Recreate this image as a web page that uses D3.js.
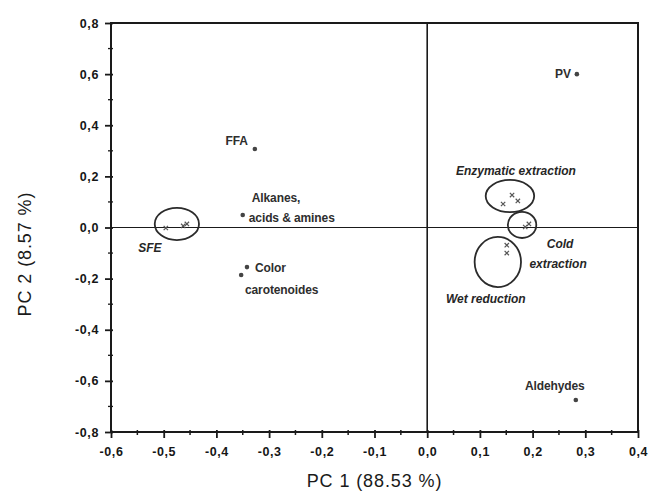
<!DOCTYPE html>
<html>
<head>
<meta charset="utf-8">
<style>
	body { margin: 0; background: #fff; }
	svg { display: block; }
	.tick-label { font-family: "Liberation Sans", Arial, sans-serif; font-weight: bold; font-size: 12.5px; fill: #161616; letter-spacing: 0.6px; }
	.axis-title { font-family: "Liberation Sans", Arial, sans-serif; font-size: 18px; fill: #1a1a1a; letter-spacing: 0.9px; }
	.pt-label { font-family: "Liberation Sans", Arial, sans-serif; font-weight: bold; font-size: 12px; fill: #2e2e2e; letter-spacing: -0.1px; }
	.grp-label { font-family: "Liberation Sans", Arial, sans-serif; font-weight: bold; font-style: italic; font-size: 12px; fill: #262626; letter-spacing: 0px; }
</style>
<script src="https://cdn.jsdelivr.net/npm/d3@7"></script>
</head>
<body>
<div id="chart"></div>
<script>
// loadings (variables)
var varNames = ["PV", "FFA", "Alkanes", "Color", "Color2", "Aldehydes"];
var varPC1 = [0.284, -0.327, -0.350, -0.342, -0.353, 0.282];
var varPC2 = [0.600, 0.307, 0.049, -0.155, -0.186, -0.675];

// scores (samples) per extraction method
var sampleGroup = ["SFE", "SFE", "SFE", "Enzymatic", "Enzymatic", "Enzymatic", "Cold", "Cold", "Wet", "Wet"];
var samplePC1 = [-0.496, -0.463, -0.456, 0.161, 0.172, 0.144, 0.193, 0.186, 0.151, 0.151];
var samplePC2 = [-0.002, 0.006, 0.014, 0.127, 0.104, 0.092, 0.014, 0.002, -0.069, -0.100];

// group ellipses (centre and half axes in PC units)
var groupNames = ["SFE", "Enzymatic", "Cold", "Wet"];
var groupCx = [-0.475, 0.157, 0.180, 0.134];
var groupCy = [0.014, 0.123, 0.010, -0.135];
var groupRx = [0.042, 0.046, 0.027, 0.044];
var groupRy = [0.063, 0.063, 0.051, 0.098];

var xTicks = [-0.6, -0.5, -0.4, -0.3, -0.2, -0.1, 0.0, 0.1, 0.2, 0.3, 0.4];
var yTicks = [-0.8, -0.6, -0.4, -0.2, 0.0, 0.2, 0.4, 0.6, 0.8];

// label placement, pixels from the mark (layout only)
var varLabelLayout = {
	"PV": [{t: "PV", dx: -6, dy: 4, a: "end"}],
	"FFA": [{t: "FFA", dx: -7, dy: -4, a: "end"}],
	"Alkanes": [{t: "Alkanes,", dx: 9, dy: -13, a: "start"}, {t: "acids & amines", dx: 6, dy: 7, a: "start"}],
	"Color": [{t: "Color", dx: 8, dy: 5, a: "start"}, {t: "carotenoides", dx: -2, dy: 27, a: "start"}],
	"Color2": [],
	"Aldehydes": [{t: "Aldehydes", dx: -21, dy: -10, a: "middle"}]
};
var groupLabelLayout = {
	"SFE": [{t: "SFE", dx: -27, dy: 28, a: "middle"}],
	"Enzymatic": [{t: "Enzymatic extraction", dx: 6, dy: -21, a: "middle"}],
	"Cold": [{t: "Cold", dx: 38, dy: 23, a: "middle"}, {t: "extraction", dx: 36, dy: 43, a: "middle"}],
	"Wet": [{t: "Wet reduction", dx: -12, dy: 41, a: "middle"}]
};

var width = 651, height = 495;
var plotL = 111, plotR = 638, plotT = 23, plotB = 432;

var svg = d3.select("#chart").append("svg")
	.attr("width", width)
	.attr("height", height);

var x = d3.scaleLinear().domain([-0.6, 0.4]).range([plotL, plotR]);
var y = d3.scaleLinear().domain([-0.8, 0.8]).range([plotB, plotT]);

var fmt = function(d) { return d3.format(".1f")(d).replace(".", ",").replace("−", "-"); };

// zero lines
svg.append("line")
	.attr("x1", x(0)).attr("x2", x(0)).attr("y1", plotT).attr("y2", plotB)
	.attr("stroke", "#1a1a1a").attr("stroke-width", 1.6);
svg.append("line")
	.attr("x1", plotL).attr("x2", plotR).attr("y1", y(0)).attr("y2", y(0))
	.attr("stroke", "#1a1a1a").attr("stroke-width", 1.2);

// frame
svg.append("rect")
	.attr("x", plotL).attr("y", plotT)
	.attr("width", plotR - plotL).attr("height", plotB - plotT)
	.attr("fill", "none").attr("stroke", "#1a1a1a").attr("stroke-width", 2);

// bottom axis
var xAxis = d3.axisBottom(x).tickValues(xTicks).tickSize(6).tickPadding(7).tickFormat(fmt);
var gx = svg.append("g").attr("transform", "translate(0," + plotB + ")").call(xAxis);
gx.select(".domain").remove();
gx.selectAll(".tick line").attr("stroke", "#1a1a1a").attr("stroke-width", 1.8).attr("y1", -2);
gx.selectAll(".tick text").attr("class", "tick-label").attr("dy", "0.85em");
var xMinor = d3.range(-0.55, 0.4, 0.1);
svg.append("g").selectAll("line").data(xMinor).join("line")
	.attr("x1", d => x(d)).attr("x2", d => x(d))
	.attr("y1", plotB - 2).attr("y2", plotB + 3)
	.attr("stroke", "#1a1a1a").attr("stroke-width", 1.5);

// left axis
var yAxis = d3.axisLeft(y).tickValues(yTicks).tickSize(6).tickPadding(6).tickFormat(fmt);
var gy = svg.append("g").attr("transform", "translate(" + plotL + ",0)").call(yAxis);
gy.select(".domain").remove();
gy.selectAll(".tick line").attr("stroke", "#1a1a1a").attr("stroke-width", 1.8).attr("x1", 2);
gy.selectAll(".tick text").attr("class", "tick-label").attr("text-anchor", "end");
var yMinor = d3.range(-0.7, 0.8, 0.2);
svg.append("g").selectAll("line").data(yMinor).join("line")
	.attr("x1", plotL - 3).attr("x2", plotL + 2)
	.attr("y1", d => y(d)).attr("y2", d => y(d))
	.attr("stroke", "#1a1a1a").attr("stroke-width", 1.3);

// axis titles
svg.append("text").attr("class", "axis-title")
	.attr("x", (plotL + plotR) / 2).attr("y", 487)
	.attr("text-anchor", "middle")
	.text("PC 1 (88.53 %)");
svg.append("text").attr("class", "axis-title")
	.attr("transform", "translate(31," + 254 + ") rotate(-90)")
	.attr("text-anchor", "middle")
	.text("PC 2 (8.57 %)");

// group ellipses
var groups = groupNames.map(function(n, i) {
	return {name: n, cx: groupCx[i], cy: groupCy[i], rx: groupRx[i], ry: groupRy[i]};
});
svg.append("g").selectAll("ellipse").data(groups).join("ellipse")
	.attr("cx", d => x(d.cx)).attr("cy", d => y(d.cy))
	.attr("rx", d => x(d.rx) - x(0)).attr("ry", d => y(0) - y(d.ry))
	.attr("fill", "none").attr("stroke", "#2b2b2b").attr("stroke-width", 1.8);

// sample markers
var samples = sampleGroup.map(function(g, i) { return {group: g, pc1: samplePC1[i], pc2: samplePC2[i]}; });
svg.append("g").selectAll("path").data(samples).join("path")
	.attr("d", d3.symbol(d3.symbolX, 14))
	.attr("transform", d => "translate(" + x(d.pc1) + "," + y(d.pc2) + ")")
	.attr("stroke", "#555").attr("stroke-width", 1.2).attr("fill", "none");

// variable dots
var vars = varNames.map(function(n, i) { return {name: n, pc1: varPC1[i], pc2: varPC2[i]}; });
svg.append("g").selectAll("circle").data(vars).join("circle")
	.attr("cx", d => x(d.pc1)).attr("cy", d => y(d.pc2))
	.attr("r", 2.3).attr("fill", "#444");

// labels
vars.forEach(function(d) {
	varLabelLayout[d.name].forEach(function(l) {
		svg.append("text").attr("class", "pt-label")
			.attr("x", x(d.pc1) + l.dx).attr("y", y(d.pc2) + l.dy)
			.attr("text-anchor", l.a).text(l.t);
	});
});
groups.forEach(function(d) {
	groupLabelLayout[d.name].forEach(function(l) {
		svg.append("text").attr("class", "grp-label")
			.attr("x", x(d.cx) + l.dx).attr("y", y(d.cy) + l.dy)
			.attr("text-anchor", l.a).text(l.t);
	});
});
</script>
</body>
</html>
